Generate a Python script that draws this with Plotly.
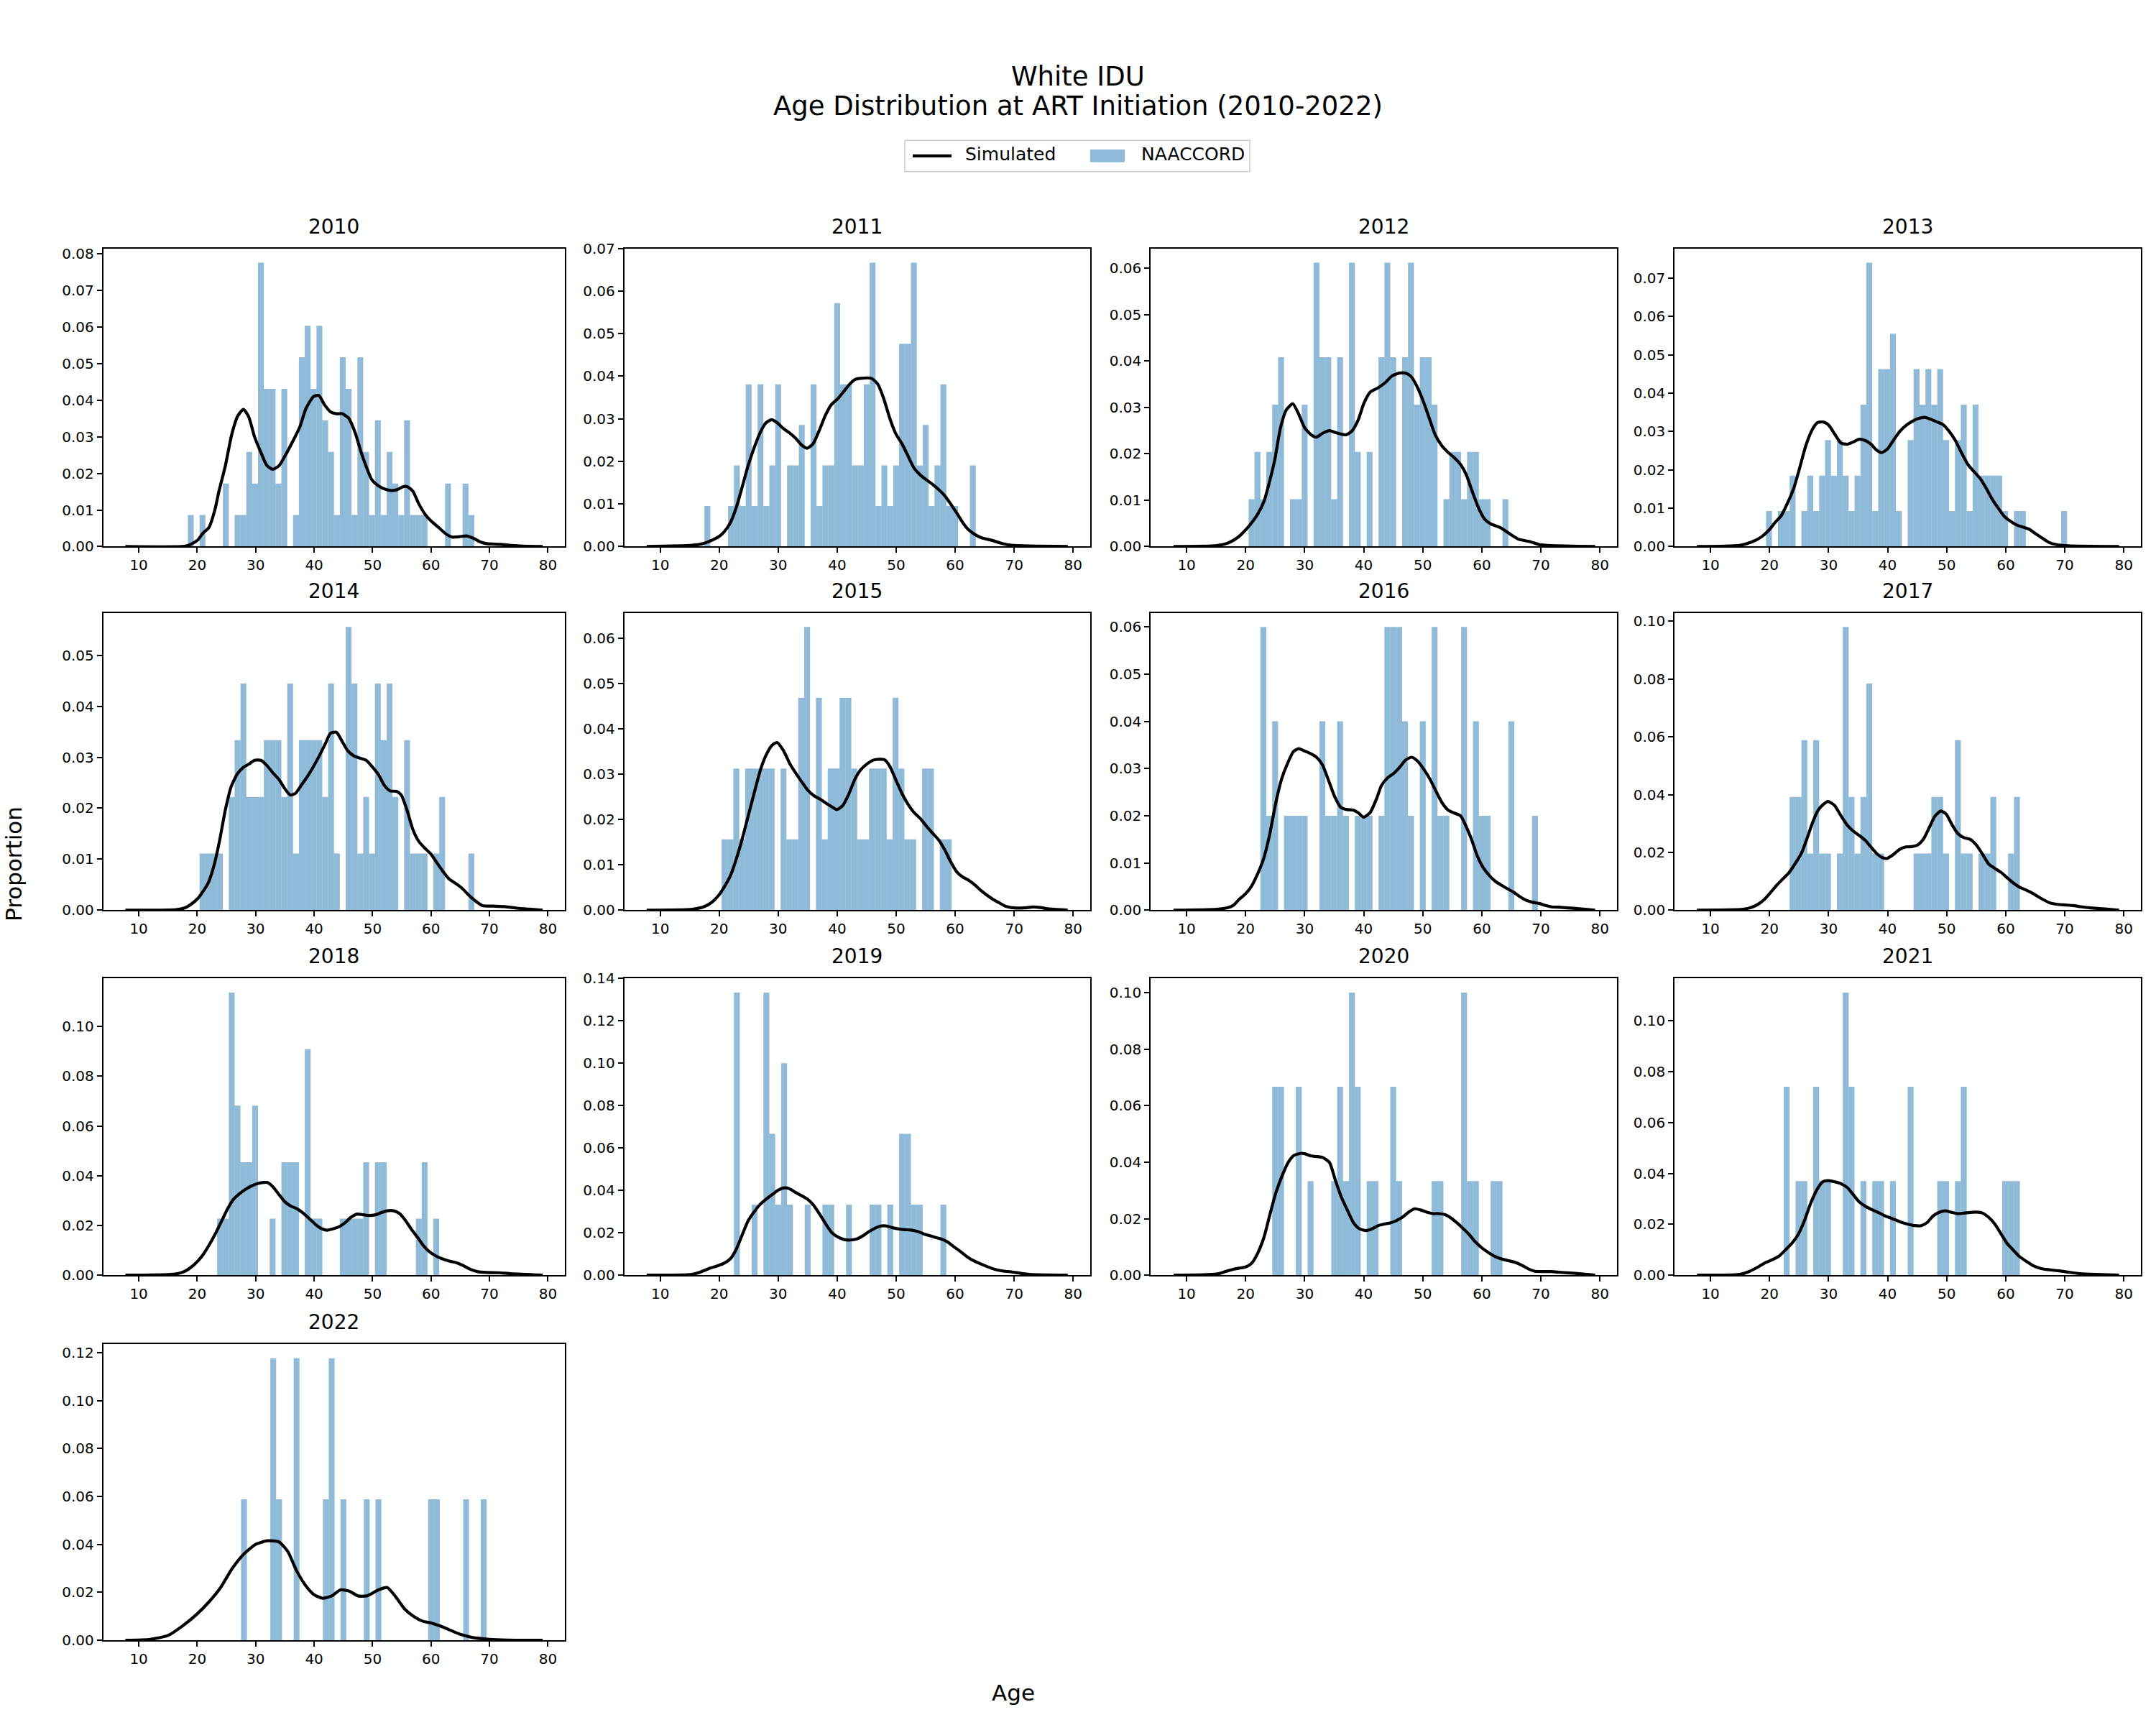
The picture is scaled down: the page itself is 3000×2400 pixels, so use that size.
import plotly.graph_objects as go

# ---------------- DATA ----------------
years = [2010, 2011, 2012, 2013, 2014, 2015, 2016, 2017, 2018, 2019, 2020, 2021, 2022]

# NAACCORD histogram: left edge of first 1-year bin, counts per bin, total N
start_2010 = 18.4
counts_2010 = [1,0,1,0,0,0,2,0,1,1,3,2,9,5,5,2,5,0,1,6,7,5,7,4,3,1,6,5,1,6,3,1,4,1,3,2,1,4,1,1,1,0,0,0,2,0,0,2,1]
n_2010 = 116
start_2011 = 17.5
counts_2011 = [1,0,0,0,1,2,1,4,1,4,1,2,4,0,2,2,3,0,4,1,2,2,6,4,4,2,2,4,7,1,2,1,2,5,5,7,2,3,1,2,4,1,1,0,0,2]
n_2011 = 105
start_2012 = 20.5
counts_2012 = [1,2,1,2,3,4,0,1,1,3,0,6,4,4,1,4,0,6,2,0,2,0,4,6,4,0,4,6,3,4,4,3,0,1,2,2,1,2,2,1,1,0,0,1]
n_2012 = 98
start_2013 = 19.4
counts_2013 = [1,0,1,1,2,0,1,2,1,2,3,2,3,2,1,2,4,8,1,5,5,6,1,0,3,5,4,5,4,5,3,1,3,4,1,4,2,2,2,2,1,0,1,1,0,0,0,0,0,0,1]
n_2013 = 108
start_2014 = 20.4
counts_2014 = [1,1,1,1,0,2,3,4,2,2,2,3,3,3,2,4,1,3,3,3,3,2,4,1,0,5,4,1,2,1,4,3,4,2,0,3,1,1,1,0,1,2,0,0,0,0,1]
n_2014 = 90
start_2015 = 20.4
counts_2015 = [1,1,2,1,2,2,2,2,2,0,2,1,1,3,4,0,3,1,2,2,3,3,2,1,1,2,2,2,1,3,2,1,1,0,2,2,0,1,1]
n_2015 = 64
start_2016 = 22.5
counts_2016 = [3,1,2,0,1,1,1,1,0,0,2,1,1,2,1,0,1,1,1,0,1,3,3,3,2,1,0,2,0,3,1,1,0,0,3,0,2,1,1,0,0,0,2,0,0,0,1]
n_2016 = 50
start_2017 = 23.4
counts_2017 = [2,2,3,1,3,1,1,0,1,5,2,1,2,4,1,1,0,0,0,0,0,1,1,1,2,2,1,0,3,1,1,0,1,1,2,0,0,1,2]
n_2017 = 51
start_2018 = 23.4
counts_2018 = [1,1,5,3,2,2,3,0,0,1,0,2,2,2,0,4,1,1,0,0,0,1,1,1,1,2,0,2,2,0,0,0,0,0,1,2,0,1]
n_2018 = 44
start_2019 = 22.5
counts_2019 = [4,0,0,1,0,4,2,1,3,1,0,0,1,0,0,1,1,0,0,1,0,0,0,1,1,0,1,0,2,2,1,1,0,0,0,1]
n_2019 = 30
start_2020 = 24.5
counts_2020 = [2,2,0,0,2,0,1,0,0,0,1,2,1,3,2,0,1,1,0,0,2,1,0,0,0,0,0,1,1,0,0,0,3,1,1,0,0,1,1]
n_2020 = 30
start_2021 = 22.4
counts_2021 = [2,0,1,1,0,2,1,1,0,0,3,2,0,1,0,1,1,0,1,0,0,2,0,0,0,0,1,1,0,1,2,0,0,0,0,0,0,1,1,1]
n_2021 = 27
start_2022 = 27.5
counts_2022 = [1,0,0,0,0,2,1,0,0,2,0,0,0,0,1,2,0,1,0,0,0,1,0,1,0,0,0,0,0,0,0,0,1,1,0,0,0,0,1,0,0,1]
n_2022 = 17

# Simulated KDE curves: (age, proportion)
kde_2010 = [(7.7,0),(18.0,0.0001),(19.0,0.0007),(20.1,0.0018),(21.0,0.0037),(22.0,0.0052),(23.0,0.0099),(23.7,0.015),(24.8,0.022),(25.9,0.0306),
            (26.9,0.0356),(27.9,0.0375),(28.8,0.0355),(29.8,0.030),(30.9,0.0257),(31.9,0.0222),(32.9,0.0211),(34.0,0.0221),(35.0,0.0247),(36.3,0.0286),
            (37.6,0.0329),(38.6,0.0377),(39.9,0.041),(40.8,0.0413),(41.8,0.0387),(42.8,0.0368),(43.8,0.0363),(44.8,0.0363),(45.9,0.0351),(47.0,0.0312),
            (48.0,0.026),(49.0,0.0215),(49.9,0.0182),(51.0,0.0166),(52.3,0.0156),(53.3,0.0153),(54.3,0.0156),(55.1,0.0163),(55.9,0.0164),(56.9,0.0151),
            (57.9,0.0117),(59.0,0.0088),(60.0,0.007),(61.3,0.0052),(62.6,0.0034),(63.6,0.0026),(64.9,0.0027),(66.0,0.0029),(67.2,0.0023),(68.5,0.0012),
            (69.5,0.0008),(71.9,0.0006),(73.7,0.0003),(75.7,0.0001),(79.1,0)]
kde_2011 = [(7.7,0),(15.4,0.0003),(17.5,0.0008),(19.8,0.0022),(20.8,0.0034),(21.9,0.0056),(22.9,0.0092),(23.9,0.014),(24.9,0.019),(26.0,0.0235),
            (26.9,0.0266),(27.9,0.029),(28.9,0.0298),(29.8,0.0291),(30.9,0.0277),(31.9,0.0267),(32.9,0.0255),(34.0,0.0238),(34.9,0.0231),(35.9,0.0241),
            (37.0,0.0274),(38.0,0.0308),(39.0,0.0333),(40.1,0.0347),(41.1,0.0364),(42.1,0.0381),(43.0,0.0392),(44.0,0.0395),(45.8,0.0395),(46.9,0.0381),
            (47.9,0.0347),(48.9,0.0302),(49.9,0.0266),(51.0,0.0241),(52.0,0.0213),(53.0,0.0185),(54.1,0.0168),(55.1,0.0157),(56.1,0.0147),(57.2,0.0134),
            (58.2,0.012),(59.2,0.0101),(60.3,0.0078),(61.3,0.0056),(62.3,0.0039),(63.4,0.0028),(64.4,0.0021),(66.4,0.0014),(68.0,0.0007),(69.5,0.0003),(79.1,0)]
kde_2012 = [(7.8,0),(15.1,0.0002),(17.1,0.0008),(18.7,0.002),(20.0,0.0036),(21.0,0.0051),(22.0,0.0069),(23.1,0.0097),(23.8,0.0128),(24.9,0.0185),
            (25.9,0.0256),(26.9,0.0295),(28.0,0.0308),(29.0,0.0285),(30.0,0.0256),(31.1,0.0241),(32.0,0.0236),(33.0,0.0244),(34.2,0.025),(35.2,0.0246),
            (37.0,0.0241),(38.0,0.0249),(39.1,0.0274),(40.0,0.0308),(41.1,0.0333),(42.4,0.0342),(43.7,0.0354),(44.7,0.0367),(46.0,0.0374),(47.1,0.0374),
            (48.0,0.0367),(49.0,0.0346),(50.1,0.0313),(51.1,0.0277),(52.1,0.0241),(53.2,0.0218),(54.3,0.0203),(55.3,0.0192),(56.4,0.0177),(57.4,0.0154),
            (58.4,0.0118),(59.5,0.0082),(60.5,0.0059),(61.5,0.0049),(63.1,0.0041),(64.9,0.0026),(66.2,0.0016),(68.0,0.0011),(69.8,0.0004),(71.8,0.0002),(79.2,0)]
kde_2013 = [(7.7,0),(14.9,0.0003),(17.0,0.0012),(18.6,0.0025),(19.9,0.0043),(20.9,0.0062),(22.0,0.0081),(23.0,0.0112),(24.1,0.0152),(25.1,0.0205),
            (26.1,0.0261),(27.2,0.0304),(28.1,0.0323),(29.1,0.0325),(30.0,0.0317),(31.1,0.0292),(32.1,0.027),(33.2,0.0267),(34.2,0.0273),(35.2,0.028),
            (36.3,0.0276),(37.2,0.0267),(38.1,0.0252),(39.0,0.0245),(40.0,0.0255),(41.1,0.028),(42.1,0.0301),(43.2,0.0317),(44.2,0.0327),(45.2,0.0334),
            (46.3,0.0337),(47.3,0.0332),(48.4,0.0325),(49.4,0.0318),(50.4,0.0301),(51.5,0.0276),(52.5,0.0245),(53.6,0.0214),(54.6,0.0196),(55.7,0.0177),
            (56.7,0.0152),(57.7,0.0124),(58.8,0.0099),(59.8,0.0078),(60.9,0.0065),(61.9,0.0056),(62.9,0.0051),(64.0,0.0045),(65.0,0.0034),(66.1,0.0023),
            (67.3,0.0011),(68.6,0.0005),(70.6,0.0002),(79.2,0)]
kde_2014 = [(7.7,0),(16.4,0.0001),(18.0,0.0005),(19.0,0.0012),(20.1,0.0023),(21.0,0.0037),(21.9,0.0054),(22.9,0.0089),(23.8,0.0135),(24.8,0.0196),
            (25.8,0.0242),(26.9,0.0268),(27.9,0.028),(28.9,0.0287),(29.8,0.0294),(30.9,0.0294),(31.9,0.0284),(32.9,0.027),(34.0,0.0256),(35.0,0.0238),
            (35.9,0.0226),(36.8,0.0229),(37.8,0.0245),(38.9,0.0263),(39.9,0.0282),(40.9,0.0303),(41.9,0.0326),(42.8,0.0347),(43.8,0.0349),(44.8,0.0331),
            (45.8,0.0312),(46.9,0.0302),(47.9,0.0298),(48.9,0.0294),(49.9,0.0282),(51.0,0.0266),(52.0,0.0245),(53.0,0.0234),(54.1,0.0233),(54.9,0.0226),
            (55.9,0.0196),(56.9,0.0158),(57.9,0.0135),(59.0,0.0121),(60.0,0.011),(61.0,0.0093),(62.1,0.0075),(63.1,0.0061),(64.4,0.0051),(65.4,0.0042),
            (66.4,0.003),(67.5,0.0019),(68.8,0.0009),(70.6,0.0008),(72.6,0.0007),(74.7,0.0004),(76.8,0.0002),(79.1,0)]
kde_2015 = [(7.7,0),(15.4,0.0002),(17.5,0.0008),(18.8,0.0018),(19.8,0.0031),(20.8,0.005),(21.9,0.0076),(22.9,0.0113),(23.9,0.0157),(24.9,0.0207),
            (26.0,0.0262),(27.0,0.031),(27.9,0.0341),(28.9,0.0363),(29.8,0.037),(30.9,0.0352),(31.9,0.0325),(32.9,0.0304),(34.0,0.0283),(35.0,0.0265),
            (36.0,0.0253),(37.1,0.0245),(38.1,0.0236),(39.1,0.0228),(39.9,0.0222),(40.9,0.023),(42.0,0.0257),(43.0,0.0289),(44.0,0.031),(45.1,0.0323),
            (46.1,0.0331),(47.1,0.0333),(48.0,0.0332),(48.9,0.0318),(49.9,0.0289),(51.0,0.0257),(52.0,0.0234),(53.0,0.0216),(54.1,0.0202),(55.1,0.0186),
            (56.1,0.0171),(57.2,0.0155),(58.2,0.0134),(59.2,0.0108),(60.3,0.0084),(61.3,0.0073),(62.3,0.0066),(63.4,0.0055),(64.4,0.0043),(65.4,0.0033),
            (66.4,0.0024),(67.5,0.0016),(68.5,0.0009),(70.1,0.0005),(71.6,0.0005),(73.2,0.0007),(74.4,0.0006),(75.7,0.0003),(79.1,0)]
kde_2016 = [(7.8,0),(15.1,0.0002),(16.9,0.0005),(17.9,0.001),(18.9,0.0023),(20.0,0.0035),(21.0,0.0051),(22.0,0.0076),(23.1,0.0111),(24.1,0.0162),
            (25.1,0.0227),(26.1,0.0278),(27.0,0.0308),(28.1,0.0336),(29.0,0.0342),(30.0,0.0337),(31.1,0.0331),(32.0,0.0324),(33.0,0.0308),(34.1,0.0273),
            (35.1,0.024),(36.1,0.0218),(37.2,0.0213),(38.2,0.0212),(39.1,0.0206),(40.0,0.0197),(41.1,0.0207),(42.2,0.0237),(43.0,0.0264),(44.1,0.0281),
            (45.1,0.029),(46.1,0.0303),(47.1,0.0318),(48.1,0.0324),(49.1,0.0316),(50.2,0.0298),(51.2,0.0278),(52.2,0.0253),(53.3,0.0227),(54.3,0.0212),
            (55.3,0.0206),(56.4,0.02),(57.1,0.0184),(58.2,0.0152),(59.2,0.0116),(60.2,0.0091),(61.3,0.0073),(62.3,0.0061),(63.3,0.0053),(64.4,0.0045),
            (65.4,0.0038),(66.4,0.0029),(67.5,0.0021),(68.5,0.0017),(69.8,0.0014),(70.8,0.001),(71.8,0.0007),(73.4,0.0006),(75.5,0.0004),(79.2,0)]
kde_2017 = [(7.7,0),(15.5,0.0003),(17.0,0.001),(18.1,0.0021),(19.1,0.0037),(20.2,0.0062),(21.2,0.0086),(22.2,0.0107),(23.3,0.013),(24.3,0.016),
            (25.4,0.0197),(26.4,0.0251),(27.3,0.0304),(28.2,0.0345),(29.1,0.0366),(29.9,0.0376),(31.0,0.0363),(32.0,0.033),(33.1,0.0296),(34.1,0.0275),
            (35.1,0.026),(36.2,0.0242),(37.2,0.0218),(38.3,0.0193),(39.2,0.0181),(39.9,0.0179),(41.0,0.0193),(42.0,0.021),(43.1,0.0219),(44.1,0.022),
            (45.1,0.0226),(46.1,0.0247),(47.1,0.0288),(48.0,0.0325),(49.0,0.0343),(49.9,0.0333),(50.9,0.0296),(51.9,0.0265),(52.9,0.0251),(54.0,0.0245),
            (55.0,0.0226),(56.1,0.0193),(57.1,0.016),(58.2,0.0144),(59.2,0.0131),(60.2,0.0113),(61.3,0.0094),(62.3,0.008),(63.4,0.007),(64.4,0.006),
            (65.4,0.0048),(66.5,0.0035),(67.5,0.0025),(68.8,0.002),(70.1,0.0018),(71.4,0.0016),(72.7,0.0012),(74.3,0.0008),(76.4,0.0005),(79.2,0)]
kde_2018 = [(7.7,0),(15.9,0.0004),(17.7,0.0014),(19.0,0.0033),(20.1,0.0057),(21.1,0.0086),(22.1,0.0124),(23.1,0.0167),(24.2,0.0219),(25.2,0.0267),
            (26.2,0.0305),(27.3,0.0329),(28.3,0.0346),(29.3,0.0359),(30.4,0.0369),(31.4,0.0373),(32.0,0.0373),(32.9,0.0357),(34.0,0.0324),(35.0,0.0295),
            (36.0,0.0278),(37.1,0.0267),(38.1,0.025),(39.1,0.0229),(40.2,0.0205),(41.2,0.0188),(42.2,0.0181),(43.2,0.0186),(44.3,0.0195),(45.3,0.0211),
            (46.3,0.0233),(47.4,0.0246),(48.4,0.0243),(49.4,0.024),(50.5,0.0243),(51.5,0.0252),(52.5,0.0259),(53.6,0.0259),(54.6,0.0248),(55.6,0.0221),
            (56.6,0.0186),(57.7,0.0152),(58.7,0.0119),(59.7,0.0095),(60.8,0.0078),(61.8,0.0067),(63.1,0.0057),(64.4,0.005),(65.4,0.004),(66.7,0.0024),
            (68.0,0.0014),(69.5,0.0011),(71.6,0.001),(73.7,0.0006),(79.1,0)]
kde_2019 = [(7.7,0),(15.4,0.0004),(17.0,0.0017),(18.5,0.0034),(19.8,0.0045),(20.8,0.0056),(21.9,0.0078),(22.9,0.0123),(23.9,0.019),(24.9,0.0257),
            (26.0,0.0302),(27.0,0.0336),(28.0,0.036),(29.1,0.0383),(30.1,0.0403),(31.1,0.0412),(31.9,0.0408),(32.9,0.0391),(34.0,0.0375),(35.0,0.0358),
            (36.0,0.033),(37.1,0.0285),(38.1,0.024),(39.1,0.0201),(40.2,0.0179),(41.2,0.0168),(42.2,0.0166),(43.2,0.017),(44.3,0.0185),(45.3,0.0204),
            (46.3,0.022),(47.4,0.0232),(48.4,0.0232),(49.4,0.0224),(50.5,0.0218),(51.5,0.0215),(52.5,0.0213),(53.6,0.0207),(54.6,0.0196),(55.6,0.0187),
            (56.6,0.0179),(57.7,0.017),(58.7,0.0157),(59.7,0.0136),(60.8,0.0114),(61.8,0.0092),(62.8,0.0073),(64.1,0.0056),(65.4,0.0041),(66.7,0.0028),
            (68.0,0.002),(69.5,0.0016),(71.1,0.0009),(72.6,0.0004),(79.1,0)]
kde_2020 = [(7.8,0),(15.1,0.0004),(16.6,0.0013),(17.9,0.0021),(18.9,0.0025),(20.0,0.0029),(21.0,0.0042),(22.0,0.0076),(23.1,0.0134),(24.1,0.0214),
            (25.1,0.029),(26.2,0.0353),(27.2,0.0399),(28.2,0.0424),(29.3,0.0431),(30.0,0.043),(31.1,0.0422),(32.1,0.042),(33.1,0.0416),(34.2,0.0399),
            (35.2,0.0336),(36.2,0.0277),(37.3,0.0227),(38.3,0.0185),(39.3,0.0164),(40.4,0.0158),(41.4,0.0164),(42.4,0.0175),(43.5,0.0181),(44.5,0.0185),
            (45.5,0.0193),(46.6,0.0206),(47.6,0.0223),(48.6,0.0235),(49.6,0.0231),(50.7,0.0223),(51.7,0.0218),(52.7,0.0218),(53.8,0.0214),(54.8,0.0202),
            (55.8,0.0185),(56.9,0.0164),(57.9,0.0143),(58.9,0.0118),(60.0,0.0097),(61.0,0.0082),(62.0,0.0069),(63.1,0.0059),(64.4,0.0052),(65.7,0.0045),
            (66.9,0.0034),(68.0,0.0021),(69.0,0.0014),(70.3,0.0013),(71.8,0.0013),(73.4,0.001),(75.5,0.0007),(79.2,0)]
kde_2021 = [(7.7,0),(14.9,0.0003),(16.5,0.0014),(18.1,0.0033),(19.1,0.0047),(20.4,0.006),(21.7,0.0077),(22.8,0.0102),(23.8,0.0126),(24.8,0.0158),
            (25.9,0.0214),(26.9,0.0279),(28.0,0.0335),(29.0,0.0367),(30.0,0.0372),(31.1,0.0367),(32.1,0.036),(33.2,0.0344),(34.2,0.0316),(35.2,0.0288),
            (36.3,0.027),(37.3,0.0258),(38.4,0.0247),(39.4,0.0235),(40.5,0.0225),(41.5,0.0216),(42.5,0.0207),(43.6,0.02),(44.6,0.0195),(45.7,0.0195),
            (46.7,0.0207),(47.7,0.0233),(48.8,0.0248),(49.8,0.0253),(50.9,0.0247),(51.9,0.0242),(52.9,0.0244),(54.0,0.0247),(55.0,0.0248),(56.1,0.0244),
            (57.1,0.0228),(58.2,0.02),(59.2,0.0163),(60.2,0.0126),(61.3,0.0098),(62.3,0.0074),(63.4,0.0056),(64.7,0.0037),(66.0,0.0026),(67.5,0.0021),
            (69.1,0.0017),(70.6,0.0012),(72.2,0.0007),(74.3,0.0004),(79.2,0)]
kde_2022 = [(7.7,0),(12.0,0.0004),(15.0,0.002),(17.5,0.006),(20.0,0.011),(22.0,0.016),(24.0,0.022),(26.0,0.03),(28.0,0.036),(30.0,0.04),
            (32.0,0.0415),(34.0,0.041),(35.5,0.037),(37.0,0.029),(38.5,0.023),(40.0,0.019),(41.5,0.0175),(43.0,0.0185),(44.5,0.021),(46.0,0.0205),
            (47.5,0.0185),(49.0,0.0185),(51.0,0.021),(52.5,0.022),(54.0,0.018),(55.5,0.013),(57.0,0.01),(58.5,0.008),(60.0,0.0072),(61.5,0.006),
            (63.0,0.0045),(65.0,0.0025),(67.0,0.0012),(70.0,0.0004),(73.0,0.0001),(79.1,0)]

x_ticks = [10, 20, 30, 40, 50, 60, 70, 80]
legend_labels = ["Simulated", "NAACCORD"]

hist_table = {
    2010: (start_2010, counts_2010, n_2010), 2011: (start_2011, counts_2011, n_2011),
    2012: (start_2012, counts_2012, n_2012), 2013: (start_2013, counts_2013, n_2013),
    2014: (start_2014, counts_2014, n_2014), 2015: (start_2015, counts_2015, n_2015),
    2016: (start_2016, counts_2016, n_2016), 2017: (start_2017, counts_2017, n_2017),
    2018: (start_2018, counts_2018, n_2018), 2019: (start_2019, counts_2019, n_2019),
    2020: (start_2020, counts_2020, n_2020), 2021: (start_2021, counts_2021, n_2021),
    2022: (start_2022, counts_2022, n_2022),
}
kde_table = {2010: kde_2010, 2011: kde_2011, 2012: kde_2012, 2013: kde_2013, 2014: kde_2014,
             2015: kde_2015, 2016: kde_2016, 2017: kde_2017, 2018: kde_2018, 2019: kde_2019,
             2020: kde_2020, 2021: kde_2021, 2022: kde_2022}

# ---------------- LAYOUT / STYLE ----------------
W, H = 3000, 2400
col_px = [(143.5, 786), (868.6, 1517), (1601, 2250), (2330, 2979)]
row_px = [(337, 756), (849, 1267), (1363, 1780), (1877, 2293)]
ystep = {2010: 0.01, 2011: 0.01, 2012: 0.01, 2013: 0.01, 2014: 0.01, 2015: 0.01, 2016: 0.01,
         2017: 0.02, 2018: 0.02, 2019: 0.02, 2020: 0.02, 2021: 0.02, 2022: 0.02}

FONT = "DejaVu Sans"
BAR_COLOR = "rgba(31,119,180,0.5)"
LINE_W = 4.2

fig = go.Figure()
annotations = []
shapes = []
layout_axes = {}

def px_x(v):
    return v / W

def px_y(v):
    return 1 - v / H

for i, yr in enumerate(years):
    r, c = divmod(i, 4)
    k = "" if i == 0 else str(i + 1)
    start, counts, n = hist_table[yr]
    bx = [start + j + 0.5 for j, v in enumerate(counts) if v > 0]
    by = [v / n for v in counts if v > 0]
    kx = [p[0] for p in kde_table[yr]]
    ky = [p[1] for p in kde_table[yr]]

    fig.add_trace(go.Bar(x=bx, y=by, width=1.0, marker=dict(color=BAR_COLOR, line=dict(width=0)),
                         name=legend_labels[1], showlegend=False,
                         xaxis="x" + k, yaxis="y" + k, hoverinfo="skip"))
    fig.add_trace(go.Scatter(x=kx, y=ky, mode="lines",
                             line=dict(color="black", width=LINE_W, shape="spline", smoothing=0.6),
                             name=legend_labels[0], showlegend=False,
                             xaxis="x" + k, yaxis="y" + k, hoverinfo="skip"))

    x0, x1 = col_px[c]
    ytop_px, ybot_px = row_px[r]
    xd = [px_x(x0), px_x(x1)]
    yd = [px_y(ybot_px), px_y(ytop_px)]
    ymax = 1.05 * max(max(by), max(ky))

    common = dict(showline=True, linecolor="black", linewidth=1.6, mirror=True,
                  ticks="outside", ticklen=7, tickwidth=1.6, tickcolor="black",
                  showgrid=False, zeroline=False,
                  tickfont=dict(family=FONT, size=20, color="black"))
    layout_axes["xaxis" + k] = dict(domain=xd, anchor="y" + k, range=[3.9, 82.9],
                                    tickmode="array", tickvals=x_ticks, **common)
    layout_axes["yaxis" + k] = dict(domain=yd, anchor="x" + k, range=[0, ymax],
                                    tick0=0, dtick=ystep[yr], tickformat=".2f", **common)

    annotations.append(dict(text=str(yr), x=(xd[0] + xd[1]) / 2, y=yd[1], xref="paper", yref="paper",
                            xanchor="center", yanchor="bottom", yshift=12, showarrow=False,
                            font=dict(family=FONT, size=28, color="black")))

# titles and axis labels
annotations += [
    dict(text="White IDU", x=0.5, y=px_y(95), xref="paper", yref="paper",
         xanchor="center", yanchor="middle", showarrow=False,
         font=dict(family=FONT, size=37, color="black")),
    dict(text="Age Distribution at ART Initiation (2010-2022)", x=0.5, y=px_y(137),
         xref="paper", yref="paper", xanchor="center", yanchor="middle", showarrow=False,
         font=dict(family=FONT, size=37, color="black")),
    dict(text="Proportion", x=px_x(19), y=px_y(1202), xref="paper", yref="paper",
         xanchor="center", yanchor="middle", textangle=-90, showarrow=False,
         font=dict(family=FONT, size=31, color="black")),
    dict(text="Age", x=px_x(1410), y=px_y(2367), xref="paper", yref="paper",
         xanchor="center", yanchor="middle", showarrow=False,
         font=dict(family=FONT, size=31, color="black")),
]

# legend (drawn to match the matplotlib-style legend box)
shapes += [
    dict(type="rect", xref="paper", yref="paper", x0=px_x(1259), x1=px_x(1739),
         y0=px_y(229), y1=px_y(185), line=dict(color="#cccccc", width=1.5), fillcolor="white"),
    dict(type="line", xref="paper", yref="paper", x0=px_x(1270), x1=px_x(1324),
         y0=px_y(207), y1=px_y(207), line=dict(color="black", width=LINE_W)),
    dict(type="rect", xref="paper", yref="paper", x0=px_x(1517), x1=px_x(1565),
         y0=px_y(216), y1=px_y(198), line=dict(width=0), fillcolor=BAR_COLOR),
]
annotations += [
    dict(text=legend_labels[0], x=px_x(1341), y=px_y(205), xref="paper", yref="paper",
         xanchor="left", yanchor="middle", showarrow=False,
         font=dict(family=FONT, size=25, color="black")),
    dict(text=legend_labels[1], x=px_x(1586), y=px_y(205), xref="paper", yref="paper",
         xanchor="left", yanchor="middle", showarrow=False,
         font=dict(family=FONT, size=25, color="black")),
]

fig.update_layout(
    width=W, height=H, autosize=False,
    margin=dict(l=0, r=0, t=0, b=0),
    paper_bgcolor="white", plot_bgcolor="white",
    barmode="overlay",
    showlegend=False,
    annotations=annotations,
    shapes=shapes,
    **layout_axes,
)

fig.write_html("out.html")
